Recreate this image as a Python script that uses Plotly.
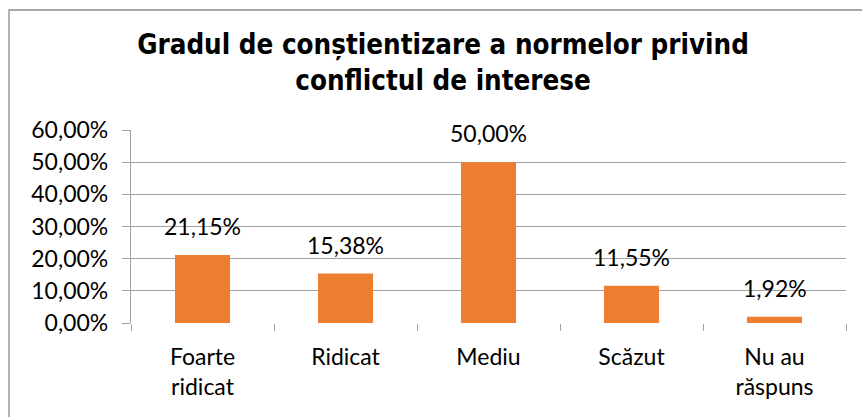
import plotly.graph_objects as go

categories = ["Foarte<br>ridicat", "Ridicat", "Mediu", "Scăzut", "Nu au<br>răspuns"]
values = [21.15, 15.38, 50.00, 11.55, 1.92]
value_labels = ["21,15%", "15,38%", "50,00%", "11,55%", "1,92%"]
y_ticks = [0, 10, 20, 30, 40, 50, 60]
y_tick_labels = ["0,00%", "10,00%", "20,00%", "30,00%", "40,00%", "50,00%", "60,00%"]
title_text = "<b>Gradul de conștientizare a normelor privind<br>conflictul de interese</b>"

W, H = 862, 417
ML, MR, MT, MB = 131, 16, 130, 94
FONT = "Lato"
GRID = "#A0A0A0"

fig = go.Figure(go.Bar(
    x=categories, y=values,
    marker=dict(color="#ED7D31", line=dict(width=0)),
    width=0.385,
))

for c, v, t in zip(categories, values, value_labels):
    fig.add_annotation(x=c, y=v, text=t, showarrow=False, yanchor="bottom",
                       yshift=13, font=dict(family=FONT, size=23, color="#000000"))

# outer chart border (pixel -> paper)
def px_x(p):
    return (p - ML) / (W - ML - MR)

def px_y(p):
    return (H - MB - p) / (H - MT - MB)

fig.add_shape(type="rect", xref="paper", yref="paper",
              x0=px_x(9), x1=px_x(900), y0=px_y(10), y1=px_y(460),
              line=dict(color="#8C8C8C", width=1.3), fillcolor="rgba(0,0,0,0)", layer="below")

fig.update_layout(
    width=W, height=H,
    margin=dict(l=ML, r=MR, t=MT, b=MB),
    paper_bgcolor="white", plot_bgcolor="white",
    showlegend=False,
    title=dict(text=title_text, x=0.514, xanchor="center", y=0.87, yanchor="bottom",
               font=dict(family="DejaVu Sans Condensed", size=27.5, color="#000000")),
    xaxis=dict(
        type="category", tickson="boundaries", ticks="outside", ticklen=7,
        tickcolor=GRID, showgrid=False, showline=False, zeroline=False,
        tickfont=dict(family=FONT, size=23, color="#000000"),
        ticklabelstandoff=18,
    ),
    yaxis=dict(
        range=[0, 60], tickvals=y_ticks, ticktext=y_tick_labels,
        ticks="outside", ticklen=8, tickcolor=GRID, tickwidth=1.3,
        showgrid=True, gridcolor=GRID, gridwidth=1.3,
        showline=True, linecolor=GRID, linewidth=1.3,
        zeroline=False,
        tickfont=dict(family=FONT, size=23, color="#000000"),
        ticklabelstandoff=9,
    ),
    bargap=0.615,
)

fig.write_html("out.html", config={"displayModeBar": False},
               post_script="document.body.style.margin='0';document.body.style.overflow='hidden';")
